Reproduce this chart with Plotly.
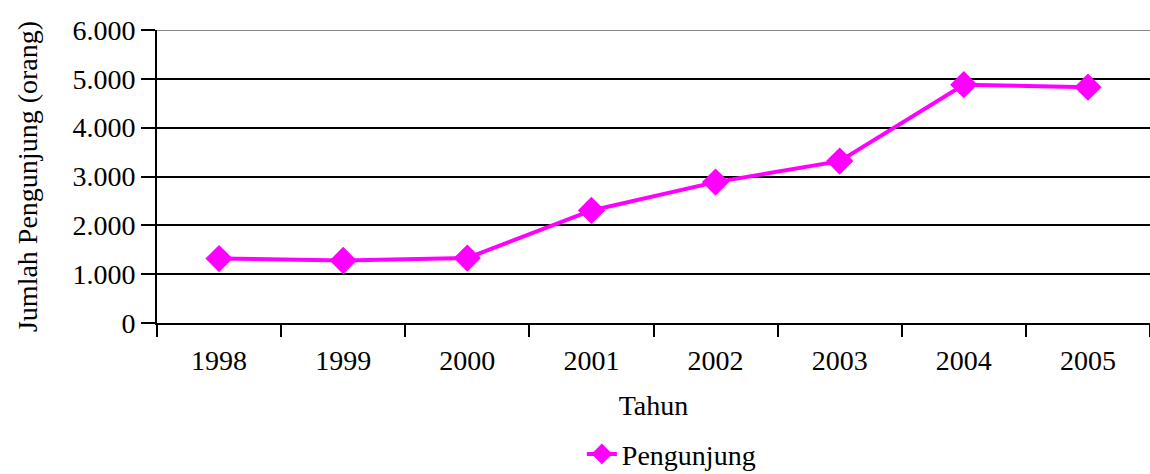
import plotly.graph_objects as go

years = ["1998", "1999", "2000", "2001", "2002", "2003", "2004", "2005"]
visitors = [1320, 1280, 1330, 2305, 2885, 3315, 4880, 4830]
y_ticks = [0, 1000, 2000, 3000, 4000, 5000, 6000]

FONT = "Liberation Serif, Times New Roman, serif"
FS = 28

fig = go.Figure()
fig.add_trace(go.Scatter(
    x=years, y=visitors, mode="lines+markers", name="Pengunjung",
    line=dict(color="#FF00FF", width=4),
    marker=dict(symbol="diamond", size=21, color="#FF00FF"),
))

fig.update_layout(
    width=1150, height=474,
    margin=dict(l=157, r=0, t=30, b=151, autoexpand=False),
    plot_bgcolor="white", paper_bgcolor="white",
    separators=",.",
    font=dict(family=FONT, size=FS, color="black"),
    showlegend=True,
    legend=dict(orientation="h", x=0.518, xanchor="center", yref="paper",
                y=-0.448, yanchor="middle", font=dict(family=FONT, size=FS)),
    xaxis=dict(
        type="category", tickson="boundaries", ticks="outside", ticklen=12,
        tickwidth=2, tickcolor="black", showline=True, linecolor="black", linewidth=2,
        showgrid=False, range=[-0.5, 7.5], zeroline=False, automargin=False,
        ticklabelstandoff=11,
        title=dict(text="Tahun", standoff=21, font=dict(family=FONT, size=FS)),
        tickfont=dict(family=FONT, size=FS),
    ),
    yaxis=dict(
        range=[0, 6000], tickvals=y_ticks, tickformat=",d", ticks="outside", ticklen=14,
        tickwidth=2, tickcolor="black", showline=True, linecolor="black", linewidth=2,
        showgrid=True, gridcolor="black", gridwidth=2, zeroline=False, automargin=False,
        title=dict(text="Jumlah Pengunjung (orang)", standoff=27, font=dict(family=FONT, size=FS)),
        tickfont=dict(family=FONT, size=FS),
    ),
)

fig.add_shape(type="line", xref="paper", yref="y", x0=0, x1=1, y0=y_ticks[-1], y1=y_ticks[-1],
              line=dict(color="#888888", width=2))

fig.write_html("out.html", config={"displayModeBar": False},
               post_script="document.body.style.margin='0';")
